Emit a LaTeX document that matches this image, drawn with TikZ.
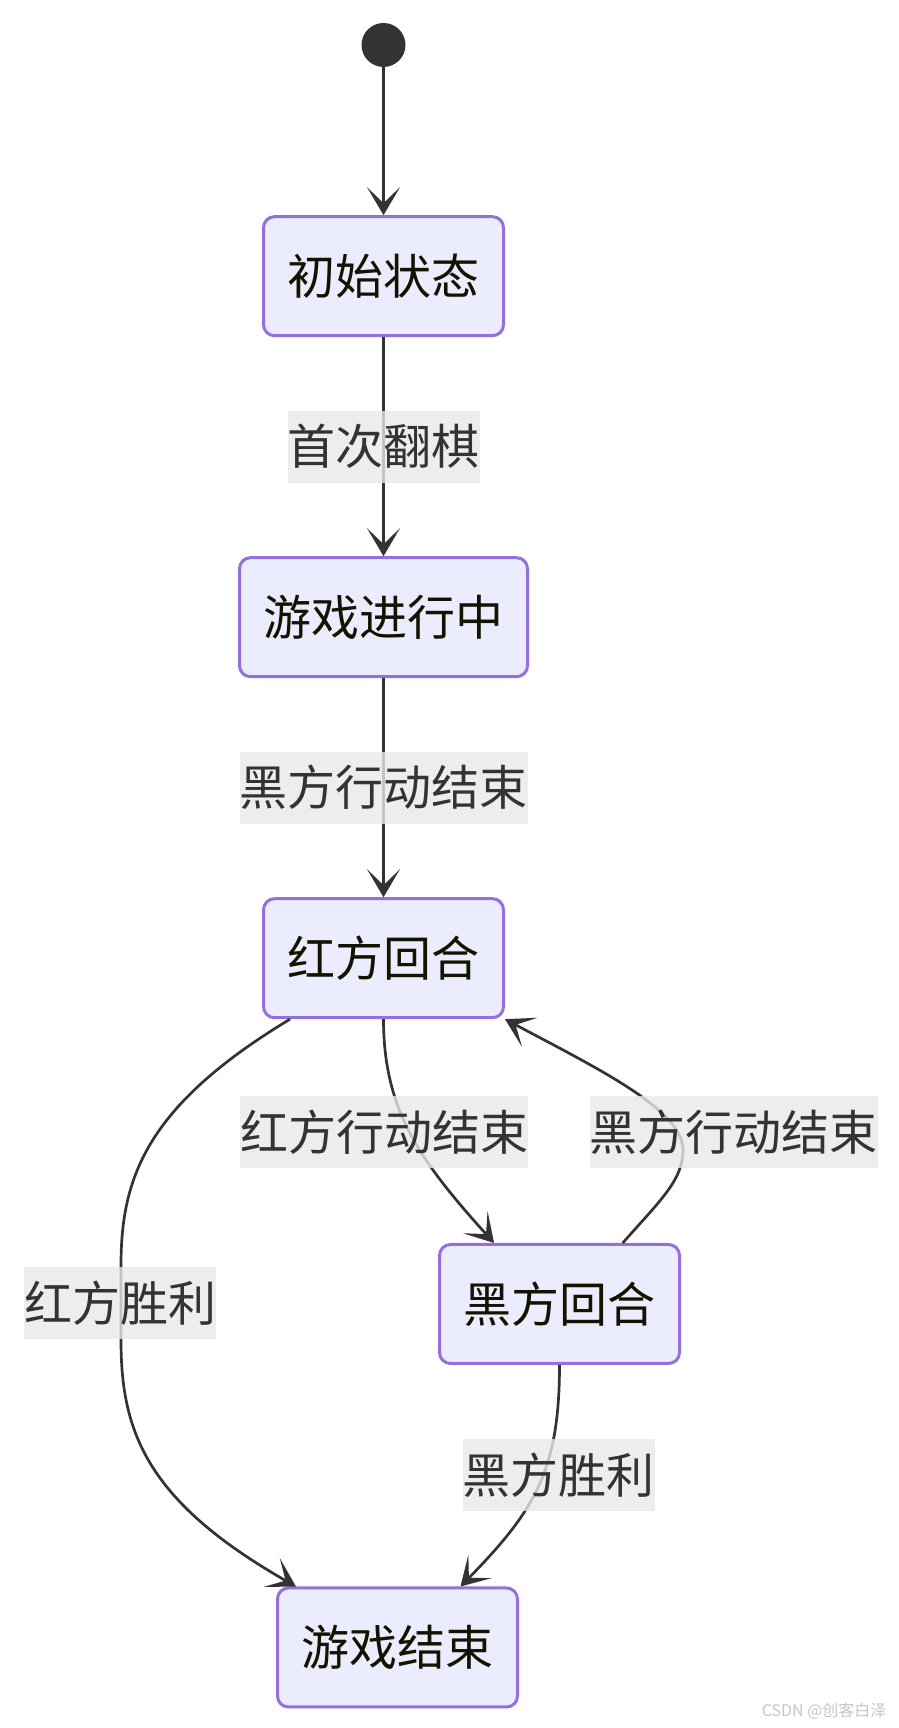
\documentclass[tikz,border=0pt]{standalone}
\usepackage{fontspec}
\setmainfont{Noto Sans CJK SC}
\usepackage{xcolor}
\usepackage{tikz}
\usetikzlibrary{shapes.geometric, arrows.meta, positioning}
\definecolor{statefill}{HTML}{ECECFF}
\definecolor{stateborder}{HTML}{9370DB}
\definecolor{statetext}{HTML}{131300}
\definecolor{linecolor}{HTML}{333333}
\definecolor{labelbg}{HTML}{E8E8E8}
\definecolor{labeltext}{HTML}{333333}
\tikzstyle{statebox} = [rectangle, rounded corners=11pt, minimum height=119pt, inner xsep=24pt, text centered, draw=stateborder, line width=3pt, fill=statefill, text=statetext, font=\fontsize{48}{58}\selectfont]
\tikzstyle{edgelabel} = [rectangle, fill=labelbg, fill opacity=0.8, text opacity=1, text=labeltext, inner xsep=0pt, inner ysep=0pt, minimum height=72pt, font=\fontsize{48}{58}\selectfont]
\tikzstyle{arrow} = [line width=2.7pt, draw=linecolor, -{Stealth[length=28pt, width=33pt, inset=16pt]}]

\begin{document}
\begin{tikzpicture}[x=1pt, y=1pt, node distance=219pt]
    \useasboundingbox (0,0) rectangle (898,1728);

    % States
    \node (start) [circle, fill=linecolor, minimum size=44pt, inner sep=0pt] at (383.5,1683) {};
    \node (init) [statebox, below=148pt of start] {初始状态};
    \node (playing) [statebox, below=of init] {游戏进行中};
    \node (redturn) [statebox, below=of playing] {红方回合};
    \node (blackturn) [statebox] at (559.5,424) {黑方回合};
    \node (gameover) [statebox] at (397.5,80.5) {游戏结束};

    % Transitions
    \draw [arrow] (start) -- (init);
    \draw [arrow] (init) -- node[edgelabel] (lblfirst) {首次翻棋} (playing);
    \draw [arrow] (playing) -- node[edgelabel] (lblstart) {黑方行动结束} (redturn);
    \draw [arrow] (redturn.south) .. controls +(0,-90) and +(-75,83) .. (blackturn.137)
        node[edgelabel] (lblreddone) at (384,596) {红方行动结束};
    \draw [arrow] (blackturn.44) .. controls +(38,43) and +(0,-30) .. (683,578)
        .. controls +(0,40) and +(94,-50) .. (redturn.south east)
        node[edgelabel] (lblblackdone) at (733.5,596) {黑方行动结束};
    \draw [arrow] ([xshift=-93.5pt]redturn.south) .. controls +(-146,-88) and +(0,86) .. (121,462)
        -- (121,388) .. controls +(0,-90) and +(-151,86) .. ([xshift=-101.5pt]gameover.north)
        node[edgelabel] (lblredwin) at (120,424.5) {红方胜利};
    \draw [arrow] (blackturn.south) .. controls +(0,-105) and +(74.5,76) .. ([xshift=63pt]gameover.north)
        node[edgelabel] (lblblackwin) at (558.5,252.5) {黑方胜利};

    % Watermark
    \node (mark) [anchor=east, text=gray!45, font=\fontsize{16}{16}\selectfont] at (890,17) {CSDN @创客白泽};

\end{tikzpicture}
\end{document}
